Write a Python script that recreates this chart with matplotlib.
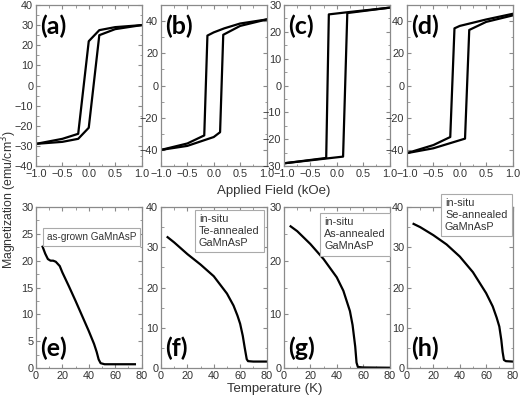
import matplotlib
matplotlib.use("Agg")
import matplotlib.pyplot as plt
import numpy as np
from matplotlib.ticker import MultipleLocator, AutoMinorLocator

plt.rcParams['font.family'] = ['Liberation Sans', 'DejaVu Sans']

# hysteresis loops: field (kOe) and magnetization, descending and ascending branches
a_down_h = [1.0, 0.5, 0.2, 0.0, -0.2, -0.5, -1.0]
a_down_m = [30, 29, 27.5, 22, -24, -26.5, -29]
a_up_h = [-1.0, -0.5, -0.2, 0.0, 0.2, 0.5, 1.0]
a_up_m = [-29, -28, -26.5, -21, 25, 28, 30]

b_down_h = [1.0, 0.5, 0.2, 0.0, -0.12, -0.18, -0.5, -1.0]
b_down_m = [41, 38.5, 35.5, 33, 31, -31, -36, -40]
b_up_h = [-1.0, -0.5, 0.0, 0.12, 0.18, 0.5, 1.0]
b_up_m = [-40, -37.5, -32, -29, 31.5, 37, 41]

c_down_h = [1.0, 0.2, -0.15, -0.2, -1.0]
c_down_m = [29, 27.3, 26.5, -27, -29]
c_up_h = [-1.0, 0.12, 0.2, 1.0]
c_up_m = [-29, -26.5, 27, 29]

d_down_h = [1.0, 0.5, 0.0, -0.1, -0.18, -0.5, -1.0]
d_down_m = [44.5, 41, 37, 35.5, -32, -37, -42]
d_up_h = [-1.0, -0.5, 0.1, 0.18, 0.5, 1.0]
d_up_m = [-42, -39, -33, 34.5, 39.5, 43.5]

# M(T) curves
e_t = [5, 7, 9, 11, 13, 15, 18, 20, 25, 30, 35, 40, 44, 46, 47.5, 49, 52, 60, 75]
e_m = [22.6, 21.3, 20.3, 20.0, 20.0, 19.8, 19.0, 17.8, 15.2, 12.5, 9.7, 6.9, 4.5, 3.0, 1.6, 0.9, 0.7, 0.7, 0.7]
f_t = [5, 10, 20, 30, 40, 50, 55, 58, 60, 62, 63.5, 65, 66, 70, 80]
f_m = [32.5, 31.2, 28.3, 25.7, 22.8, 18.5, 15.5, 13, 11, 8, 5, 2.2, 1.7, 1.6, 1.6]
g_t = [5, 10, 20, 30, 40, 45, 50, 52, 54, 55, 56, 60, 80]
g_m = [26.4, 25.5, 23.1, 20.3, 16.9, 14.4, 10.6, 8, 4, 1, 0.2, 0.1, 0.05]
h_t = [5, 10, 20, 30, 40, 50, 60, 65, 68, 70, 71.5, 72.5, 73.5, 75, 80]
h_m = [35.8, 35, 33, 30.7, 27.7, 23.8, 18.6, 15.3, 12.5, 10.3, 7, 4, 2, 1.7, 1.6]

top_panels = [
    ('(a)', a_down_h, a_down_m, a_up_h, a_up_m, (-40, 40), 10),
    ('(b)', b_down_h, b_down_m, b_up_h, b_up_m, (-50, 50), 20),
    ('(c)', c_down_h, c_down_m, c_up_h, c_up_m, (-30, 30), 10),
    ('(d)', d_down_h, d_down_m, d_up_h, d_up_m, (-50, 50), 20),
]
bottom_panels = [
    ('(e)', e_t, e_m, (0, 30), 5, 'as-grown GaMnAsP'),
    ('(f)', f_t, f_m, (0, 40), 10, 'in-situ\nTe-annealed\nGaMnAsP'),
    ('(g)', g_t, g_m, (0, 30), 10, 'in-situ\nAs-annealed\nGaMnAsP'),
    ('(h)', h_t, h_m, (0, 40), 10, 'in-situ\nSe-annealed\nGaMnAsP'),
]
legend_pos = [(0.1, 0.78), (0.36, 0.745), (0.38, 0.725), (0.36, 0.845)]
legend_size = [7.2, 7.8, 7.8, 7.8]

W, H = 520, 397
fig = plt.figure(figsize=(5.2, 3.97), dpi=100)
lefts = [36, 161, 284, 407]
wid = 105.5
frame = '#8a8a8a'
tcol = '#333333'


def style(ax):
    for s in ax.spines.values():
        s.set_color(frame)
        s.set_linewidth(0.9)
    ax.tick_params(which='both', direction='in', top=True, right=True, color=frame,
                   labelsize=7.8, labelcolor=tcol, pad=2)
    ax.tick_params(which='major', length=3)
    ax.tick_params(which='minor', length=1.8)
    ax.xaxis.set_minor_locator(AutoMinorLocator(2))
    ax.yaxis.set_minor_locator(AutoMinorLocator(2))


for i, (lab, dh, dm, uh, um, ylim, ystep) in enumerate(top_panels):
    ax = fig.add_axes([lefts[i] / W, 1 - 166 / H, wid / W, 161 / H])
    ax.plot(dh, dm, color='black', lw=1.6)
    ax.plot(uh, um, color='black', lw=1.6)
    ax.set_xlim(-1, 1)
    ax.set_ylim(*ylim)
    ax.xaxis.set_major_locator(MultipleLocator(0.5))
    ax.yaxis.set_major_locator(MultipleLocator(ystep))
    style(ax)
    ax.text(0.04, 0.87, lab, transform=ax.transAxes, fontsize=18, fontweight='bold',
            family='Lato', va='center', ha='left')

for i, (lab, t, m, ylim, ystep, leg) in enumerate(bottom_panels):
    ax = fig.add_axes([lefts[i] / W, 1 - 368 / H, wid / W, 161 / H])
    ax.plot(t, m, color='black', lw=1.6)
    ax.set_xlim(0, 80)
    ax.set_ylim(*ylim)
    ax.xaxis.set_major_locator(MultipleLocator(20))
    ax.yaxis.set_major_locator(MultipleLocator(ystep))
    style(ax)
    ax.text(0.04, 0.12, lab, transform=ax.transAxes, fontsize=18, fontweight='bold',
            family='Lato', va='center', ha='left')
    ax.text(legend_pos[i][0], legend_pos[i][1], leg, transform=ax.transAxes,
            fontsize=legend_size[i], color=tcol, va='bottom', ha='left',
            linespacing=1.25, clip_on=False,
            bbox=dict(boxstyle='square,pad=0.4', fc='white', ec='#aaaaaa', lw=0.8))

fig.text(274 / W, 1 - 191 / H, 'Applied Field (kOe)', ha='center', va='center',
         fontsize=9.5, color=tcol)
fig.text(275 / W, 1 - 389 / H, 'Temperature (K)', ha='center', va='center',
         fontsize=9.5, color=tcol)
fig.text(8.8 / W, 1 - 200 / H, 'Magnetization (emu/cm$^3$)', ha='center', va='center',
         rotation=90, fontsize=8.8, color=tcol)

fig.savefig('out.png', dpi=100)
